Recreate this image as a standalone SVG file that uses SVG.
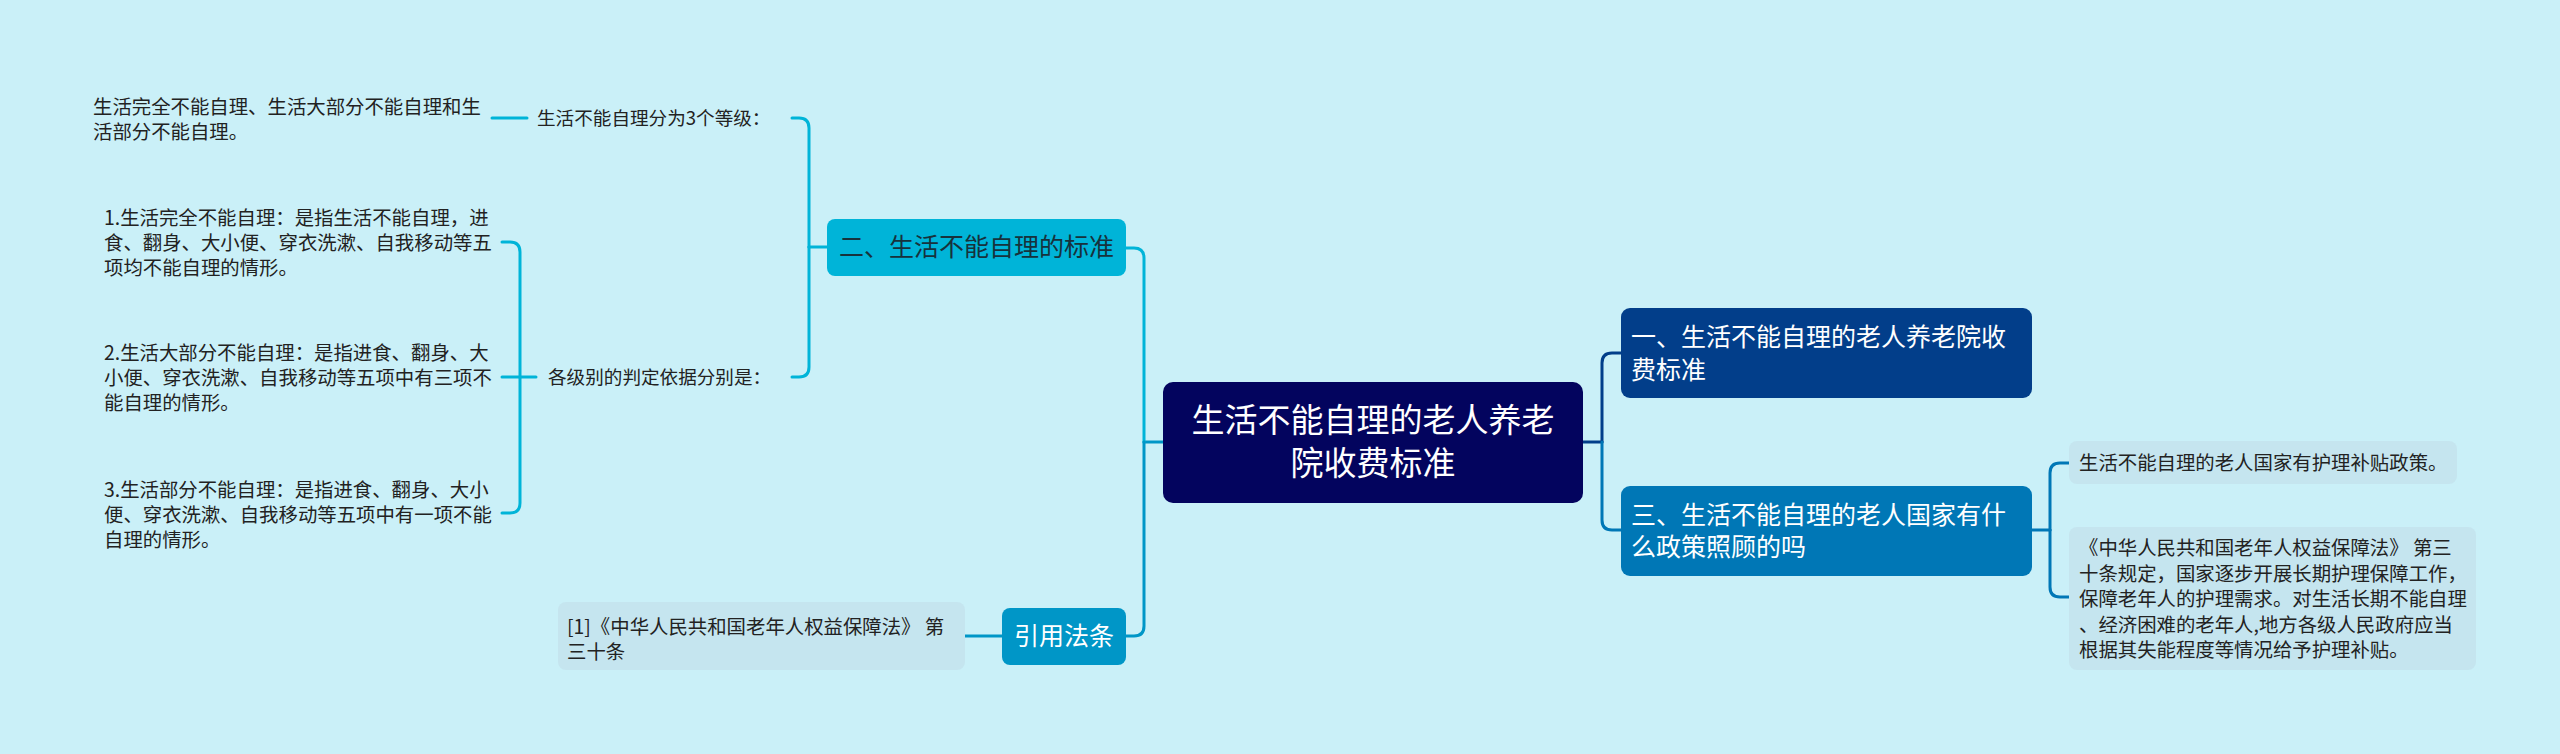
<svg xmlns="http://www.w3.org/2000/svg" width="2560" height="754" viewBox="0 0 2560 754">
<style>
.t{font-family:"Noto Sans CJK SC","Noto Sans",sans-serif;}
.leaf{font-size:19.4px;fill:#222222;}
.mid{font-size:18.6px;fill:#222222;}
.l1{font-size:25px;fill:#ffffff;}
.l1d{font-size:25px;fill:#17323c;}
.root{font-size:33px;fill:#ffffff;}
.lb{fill:#c5e5ef;}
.c{fill:none;stroke-width:3;stroke-linecap:round;}
.cy{stroke:#00b4d8;}
.cb{stroke:#0096c7;}
.cd{stroke:#0077b6;}
.cn{stroke:#023e8a;}
</style>
<rect x="0" y="0" width="2560" height="754" fill="#caf0f8"/>
<g id="connectors">
  <path class="c cb" d="M1163,442 H1144"/>
  <path class="c cy" d="M1144,442 V258 Q1144,248 1134,248 H1126"/>
  <path class="c cb" d="M1144,442 V626 Q1144,636 1134,636 H1126"/>
  <path class="c cn" d="M1583,442 H1602"/>
  <path class="c cn" d="M1602,442 V363 Q1602,353 1612,353 H1621"/>
  <path class="c cd" d="M1602,442 V520 Q1602,530 1612,530 H1621"/>
  <path class="c cd" d="M2032,530 H2050"/>
  <path class="c cd" d="M2050,530 V473 Q2050,463 2060,463 H2069"/>
  <path class="c cd" d="M2050,530 V587 Q2050,597 2060,597 H2069"/>
  <path class="c cy" d="M827,247 H809"/>
  <path class="c cy" d="M809,247 V128 Q809,118 799,118 H792"/>
  <path class="c cy" d="M809,247 V367 Q809,377 799,377 H792"/>
  <path class="c cy" d="M527,118 H492"/>
  <path class="c cy" d="M536,377 H520"/>
  <path class="c cy" d="M520,377 V252 Q520,242 510,242 H502"/>
  <path class="c cy" d="M520,377 H502"/>
  <path class="c cy" d="M520,377 V503 Q520,513 510,513 H502"/>
  <path class="c cb" d="M1002,636 H965"/>
</g>
<g id="root">
  <rect x="1163" y="382" width="420" height="121" rx="10" fill="#03045e"/>
  <text class="t root" x="1373" y="432" text-anchor="middle">生活不能自理的老人养老</text>
  <text class="t root" x="1373" y="475" text-anchor="middle">院收费标准</text>
</g>
<g id="n1">
  <rect x="1621" y="308" width="411" height="90" rx="9" fill="#023e8a"/>
  <text class="t l1" x="1631" y="346">一、生活不能自理的老人养老院收</text>
  <text class="t l1" x="1631" y="379">费标准</text>
</g>
<g id="n3">
  <rect x="1621" y="486" width="411" height="90" rx="9" fill="#0077b6"/>
  <text class="t l1" x="1631" y="524">三、生活不能自理的老人国家有什</text>
  <text class="t l1" x="1631" y="556">么政策照顾的吗</text>
</g>
<g id="n3a">
  <rect class="lb" x="2069" y="441" width="388" height="43" rx="8"/>
  <text class="t leaf" x="2079" y="470">生活不能自理的老人国家有护理补贴政策。</text>
</g>
<g id="n3b">
  <rect class="lb" x="2069" y="527" width="407" height="143" rx="8"/>
  <text class="t leaf" x="2079" y="555">《中华人民共和国老年人权益保障法》 第三</text>
  <text class="t leaf" x="2079" y="580.5">十条规定，国家逐步开展长期护理保障工作，</text>
  <text class="t leaf" x="2079" y="606">保障老年人的护理需求。对生活长期不能自理</text>
  <text class="t leaf" x="2079" y="631.5">、经济困难的老年人,地方各级人民政府应当</text>
  <text class="t leaf" x="2079" y="657">根据其失能程度等情况给予护理补贴。</text>
</g>
<g id="n2">
  <rect x="827" y="219" width="299" height="57" rx="8" fill="#00b4d8"/>
  <text class="t l1d" x="976.5" y="256" text-anchor="middle">二、生活不能自理的标准</text>
</g>
<g id="n2a">
  <text class="t mid" x="537" y="125">生活不能自理分为3个等级：</text>
</g>
<g id="n2a1">
  <text class="t leaf" x="93" y="114">生活完全不能自理、生活大部分不能自理和生</text>
  <text class="t leaf" x="93" y="139">活部分不能自理。</text>
</g>
<g id="n2b">
  <text class="t mid" x="548" y="384">各级别的判定依据分别是：</text>
</g>
<g id="n2b1">
  <text class="t leaf" x="104" y="225">1.生活完全不能自理：是指生活不能自理，进</text>
  <text class="t leaf" x="104" y="250">食、翻身、大小便、穿衣洗漱、自我移动等五</text>
  <text class="t leaf" x="104" y="275">项均不能自理的情形。</text>
</g>
<g id="n2b2">
  <text class="t leaf" x="104" y="360">2.生活大部分不能自理：是指进食、翻身、大</text>
  <text class="t leaf" x="104" y="385">小便、穿衣洗漱、自我移动等五项中有三项不</text>
  <text class="t leaf" x="104" y="410">能自理的情形。</text>
</g>
<g id="n2b3">
  <text class="t leaf" x="104" y="497">3.生活部分不能自理：是指进食、翻身、大小</text>
  <text class="t leaf" x="104" y="522">便、穿衣洗漱、自我移动等五项中有一项不能</text>
  <text class="t leaf" x="104" y="547">自理的情形。</text>
</g>
<g id="n4">
  <rect x="1002" y="608" width="124" height="57" rx="8" fill="#0096c7"/>
  <text class="t l1" x="1064" y="645" text-anchor="middle">引用法条</text>
</g>
<g id="n4a">
  <rect class="lb" x="558" y="602" width="407" height="68" rx="8"/>
  <text class="t leaf" x="567" y="634">[1]《中华人民共和国老年人权益保障法》 第</text>
  <text class="t leaf" x="567" y="659">三十条</text>
</g>
</svg>
